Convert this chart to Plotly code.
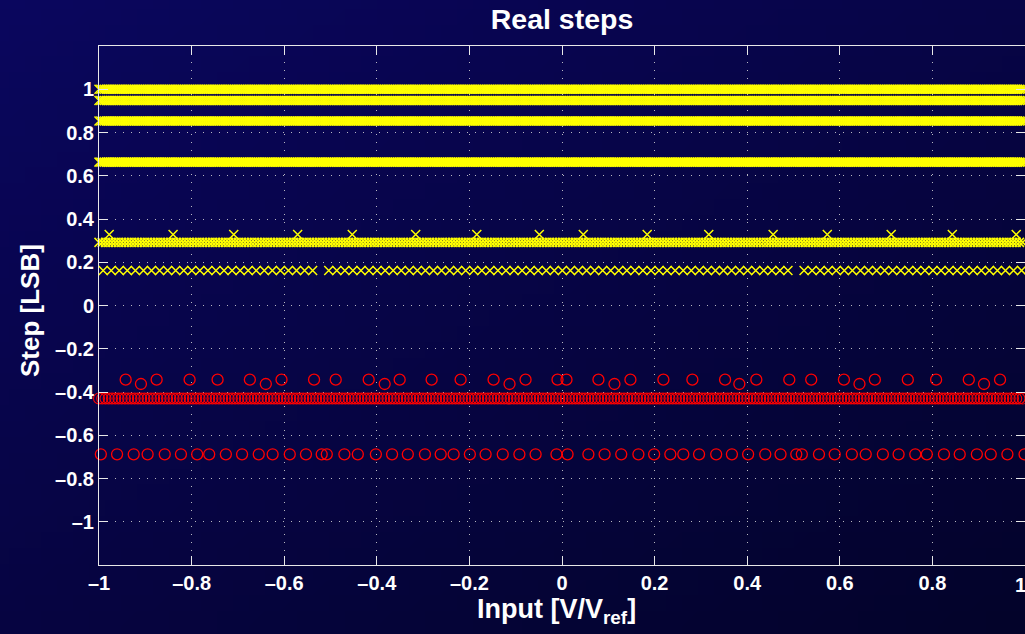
import base64
import struct
import zlib

import numpy as np
import plotly.graph_objects as go

# ---------------- data ----------------
# dense bands: step level [LSB] and the pitch of the input codes that fill them
yellow_dense_levels = [1.0, 0.948, 0.853, 0.663, 0.292]
yellow_dense_pitch = [0.004, 0.004, 0.004, 0.004, 0.007]
red_dense_levels = [-0.430]
red_dense_pitch = [0.007]

# sparse yellow steps at 0.328 LSB
yellow_hi_x = [-0.978, -0.840, -0.709, -0.571, -0.453, -0.316, -0.184, -0.049,
               0.046, 0.184, 0.317, 0.456, 0.573, 0.711, 0.843, 0.981]
yellow_hi_y = 0.328

# row of yellow steps at 0.162 LSB (pitch of codes, with two missing codes)
yellow_mid_level = 0.162
yellow_mid_pitch = 0.0174
yellow_mid_start = -0.991
yellow_mid_missing = [-0.515, 0.512]

# sparse red steps
red_a_x = [-0.9424, -0.8755, -0.8043, -0.7439, -0.6742, -0.6058, -0.5355, -0.4887,
           -0.4175, -0.3506, -0.2816, -0.2190, -0.1478, -0.0787, -0.0097,
           0.0097, 0.0787, 0.1478, 0.2190, 0.2816, 0.3522, 0.4197, 0.4909,
           0.5383, 0.6089, 0.6757, 0.7469, 0.8080, 0.8786, 0.9461]
red_a_y = -0.343
red_b_x = [-0.9094, -0.6397, -0.3830, -0.1133, 0.1133, 0.3830, 0.6425, 0.9115]
red_b_y = -0.363

red_low_x = [-0.996, -0.961, -0.925, -0.895, -0.858, -0.823, -0.788, -0.762,
             -0.726, -0.691, -0.655, -0.625, -0.588, -0.553, -0.519, -0.508,
             -0.470, -0.441, -0.402, -0.367, -0.333, -0.296, -0.262, -0.234,
             -0.199, -0.165, -0.128, -0.092, -0.057, -0.012,
             0.012, 0.057, 0.092, 0.128, 0.165, 0.199, 0.234, 0.262, 0.296,
             0.333, 0.367, 0.402, 0.439, 0.472, 0.506, 0.518, 0.555, 0.589,
             0.626, 0.656, 0.693, 0.727, 0.763, 0.788, 0.825, 0.859, 0.896,
             0.926, 0.962, 0.999]
red_low_y = -0.688

x_tickvals = [-1, -0.8, -0.6, -0.4, -0.2, 0, 0.2, 0.4, 0.6, 0.8, 1]
x_ticktext = ["\u20131", "\u20130.8", "\u20130.6", "\u20130.4", "\u20130.2", "0",
              "0.2", "0.4", "0.6", "0.8", "1"]
y_tickvals = [-1, -0.8, -0.6, -0.4, -0.2, 0, 0.2, 0.4, 0.6, 0.8, 1]
y_ticktext = ["\u20131", "\u20130.8", "\u20130.6", "\u20130.4", "\u20130.2", "0",
              "0.2", "0.4", "0.6", "0.8", "1"]

title_text = "Real steps"
x_label = "Input [V/V<sub>ref</sub>]"
y_label = "Step [LSB]"

# ---------------- helpers ----------------
def band_x(pitch, start=-1.0, stop=1.0):
    n = int(round((stop - start) / pitch))
    return list(start + pitch * np.arange(n + 1))


def gradient_png(w, h, c0, c1):
    rows = b""
    for j in range(h):
        row = b"\x00"
        for i in range(w):
            t = 0.45 * i / (w - 1) + 0.55 * j / (h - 1)
            c = [int(round(a + (b - a) * t)) for a, b in zip(c0, c1)]
            row += bytes(c)
        rows += row

    def chunk(tag, data):
        return (struct.pack(">I", len(data)) + tag + data +
                struct.pack(">I", zlib.crc32(tag + data) & 0xFFFFFFFF))

    png = b"\x89PNG\r\n\x1a\n"
    png += chunk(b"IHDR", struct.pack(">IIBBBBB", w, h, 8, 2, 0, 0, 0))
    png += chunk(b"IDAT", zlib.compress(rows, 9))
    png += chunk(b"IEND", b"")
    return "data:image/png;base64," + base64.b64encode(png).decode()


YEL = "#ffff00"
RED = "#ff0000"
XMARK = dict(symbol="x-thin", size=9, color=YEL, line=dict(color=YEL, width=1.5))
OMARK = dict(symbol="circle-open", size=11, color=RED, line=dict(color=RED, width=1.3))
OMARK_DENSE = dict(symbol="circle-open", size=11, color=RED, line=dict(color=RED, width=1.1))

fig = go.Figure()

for lvl, p in zip(yellow_dense_levels, yellow_dense_pitch):
    xs = band_x(p)
    fig.add_trace(go.Scatter(x=xs, y=[lvl] * len(xs), mode="markers", cliponaxis=False,
                             marker=XMARK))

fig.add_trace(go.Scatter(x=yellow_hi_x, y=[yellow_hi_y] * len(yellow_hi_x), mode="markers",
                         cliponaxis=False, marker=XMARK))

mid_x = [x for x in band_x(yellow_mid_pitch, yellow_mid_start, 1.0)
         if all(abs(x - m) > yellow_mid_pitch / 2 for m in yellow_mid_missing)]
fig.add_trace(go.Scatter(x=mid_x, y=[yellow_mid_level] * len(mid_x), mode="markers",
                         cliponaxis=False, marker=XMARK))

for lvl, p in zip(red_dense_levels, red_dense_pitch):
    xs = band_x(p)
    fig.add_trace(go.Scatter(x=xs, y=[lvl] * len(xs), mode="markers", cliponaxis=False,
                             marker=OMARK_DENSE))

for xs, yv in [(red_a_x, red_a_y), (red_b_x, red_b_y), (red_low_x, red_low_y)]:
    fig.add_trace(go.Scatter(x=xs, y=[yv] * len(xs), mode="markers", cliponaxis=False,
                             marker=OMARK))

W, H = 1025, 634
L, R, T, B = 99, 0, 46, 69
pw, ph = W - L - R, H - T - B
FAM = "Liberation Sans, Arial, sans-serif"
TICKFONT = dict(family=FAM, size=20, color="white")

axis_common = dict(
    showline=True, linecolor="#e8e8e8", linewidth=1, mirror="ticks",
    ticks="inside", ticklen=9, tickcolor="#e8e8e8", tickwidth=1,
    showgrid=True, gridcolor="rgba(215,215,215,0.85)", gridwidth=1, griddash="1px,7px",
    zeroline=False, tickfont=TICKFONT,
)

fig.update_layout(
    width=W, height=H,
    margin=dict(l=L, r=R, t=T, b=B),
    paper_bgcolor="#07064f",
    plot_bgcolor="rgba(0,0,0,0)",
    showlegend=False,
    font=dict(family=FAM, color="white"),
    title=dict(text=f"<b>{title_text}</b>", x=(L + pw / 2) / W, xanchor="center",
               y=1 - 19 / H, yanchor="middle",
               font=dict(size=28.5, color="white")),
    xaxis=dict(range=[-1, 1], tickvals=x_tickvals[:-1],
               ticktext=[f"<b>{t}</b>" for t in x_ticktext[:-1]], **axis_common),
    yaxis=dict(range=[-1.2, 1.2], tickvals=y_tickvals,
               ticktext=[f"<b>{t}</b>" for t in y_ticktext], **axis_common),
    images=[dict(source=gradient_png(64, 40, (10, 6, 94), (3, 3, 42)),
                 xref="paper", yref="paper", x=-L / pw, y=1 + T / ph,
                 sizex=W / pw, sizey=H / ph, sizing="stretch",
                 xanchor="left", yanchor="top", layer="below")],
)

# last x tick label (at the right edge of the figure, as in the reference)
fig.add_annotation(x=x_tickvals[-1], y=0, xref="x", yref="paper", yanchor="top",
                   xanchor="center", yshift=-7, xshift=-5, showarrow=False,
                   text=f"<b>{x_ticktext[-1]}</b>", font=TICKFONT)
# axis titles
fig.add_annotation(x=(556 - L) / pw, y=-(607 - (H - B)) / ph - 0.0, xref="paper", yref="paper",
                   xanchor="center", yanchor="middle", yshift=-4, showarrow=False,
                   text=f"<b>{x_label}</b>", font=dict(family=FAM, size=27, color="white"))
fig.add_annotation(x=(30 - L) / pw, y=((H - B) - 311) / ph, xref="paper", yref="paper",
                   xanchor="center", yanchor="middle", textangle=-90, showarrow=False,
                   text=f"<b>{y_label}</b>", font=dict(family=FAM, size=26, color="white"))

fig.write_html("out.html", config={"displayModeBar": False},
               post_script="document.body.style.margin='0';document.body.style.overflow='hidden';")
